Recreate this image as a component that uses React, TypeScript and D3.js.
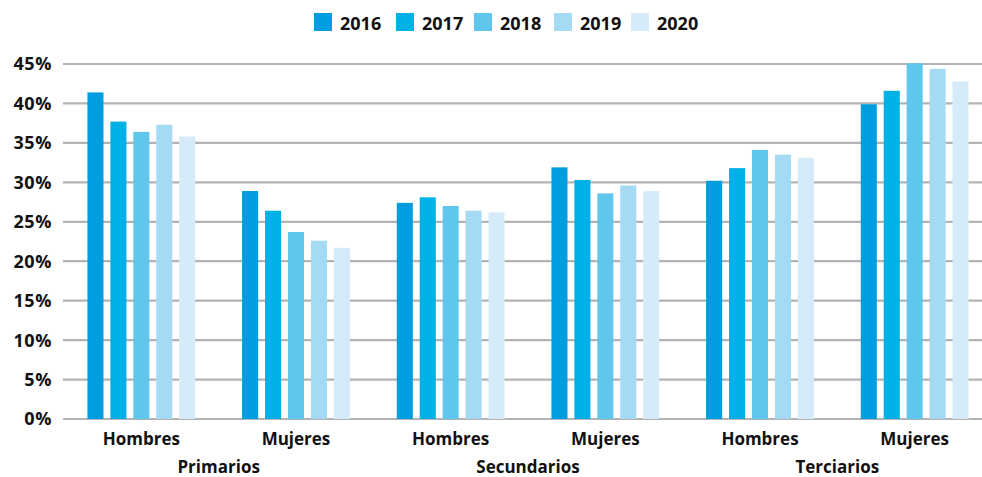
import React from "react";
import * as d3 from "d3";

const levels = ["Primarios", "Secundarios", "Terciarios"];
const sexes = ["Hombres", "Mujeres"];
const years = ["2016", "2017", "2018", "2019", "2020"];
const colors = ["#009ee0", "#00b1e7", "#5fc6ee", "#a4daf4", "#d5ebf9"];
const yTicks = [0, 5, 10, 15, 20, 25, 30, 35, 40, 45];

// values per year, order: Primarios H, M, Secundarios H, M, Terciarios H, M
const v2016 = [41.4, 28.9, 27.4, 31.9, 30.2, 39.9];
const v2017 = [37.7, 26.4, 28.1, 30.3, 31.8, 41.6];
const v2018 = [36.4, 23.7, 27.0, 28.6, 34.1, 45.1];
const v2019 = [37.3, 22.6, 26.4, 29.6, 33.5, 44.4];
const v2020 = [35.8, 21.7, 26.2, 28.9, 33.1, 42.8];
const series = [v2016, v2017, v2018, v2019, v2020];

const W = 982;
const H = 477;
const FONT = "'Open Sans', 'DejaVu Sans', sans-serif";

export default function App() {
  const groups = levels.flatMap((l) => sexes.map((s) => `${l}|${s}`));
  const x0 = d3.scaleBand<string>().domain(groups).range([64, 992]).padding(0);
  const x1 = d3
    .scaleBand<string>()
    .domain(years)
    .range([20, x0.bandwidth() - 20])
    .paddingInner(0.3)
    .paddingOuter(0.15);
  const y = d3.scaleLinear().domain([0, 45]).range([419, 64]);

  const legendX = [314, 396, 474, 554, 631];

  return (
    <svg
      width={W}
      height={H}
      style={{ position: "absolute", left: 0, top: 0, background: "#fff" }}
      fontFamily={FONT}
    >
      {/* legend */}
      {years.map((yr, i) => (
        <g key={yr} transform={`translate(${legendX[i]},13)`}>
          <rect width={18} height={18} fill={colors[i]} />
          <text x={26} y={17} fontSize={18} fontWeight={700} fill="#111">
            {yr}
          </text>
        </g>
      ))}
      {/* gridlines */}
      {yTicks.map((t) => (
        <g key={t}>
          <line x1={63} x2={992} y1={y(t)} y2={y(t)} stroke="#b3b3b3" strokeWidth={2.2} />
          <text
            x={52}
            y={y(t)}
            dy="0.36em"
            textAnchor="end"
            fontSize={18}
            fontWeight={700}
            letterSpacing={0.6}
            fill="#111"
          >
            {t}%
          </text>
        </g>
      ))}
      {/* bars */}
      {groups.map((g, gi) => (
        <g key={g} transform={`translate(${x0(g)},0)`}>
          {years.map((yr, si) => {
            const val = series[si][gi];
            return (
              <rect
                key={yr}
                x={x1(yr)}
                y={y(val)}
                width={x1.bandwidth()}
                height={y(0) - y(val)}
                fill={colors[si]}
              />
            );
          })}
          <text
            x={x0.bandwidth() / 2}
            y={445}
            textAnchor="middle"
            fontSize={17}
            fontWeight={700}
            fill="#111"
          >
            {g.split("|")[1]}
          </text>
        </g>
      ))}
      {levels.map((l) => (
        <text
          key={l}
          x={(x0(`${l}|Hombres`)! + x0(`${l}|Mujeres`)! + x0.bandwidth()) / 2}
          y={473}
          textAnchor="middle"
          fontSize={17}
          fontWeight={700}
          fill="#111"
        >
          {l}
        </text>
      ))}
    </svg>
  );
}
